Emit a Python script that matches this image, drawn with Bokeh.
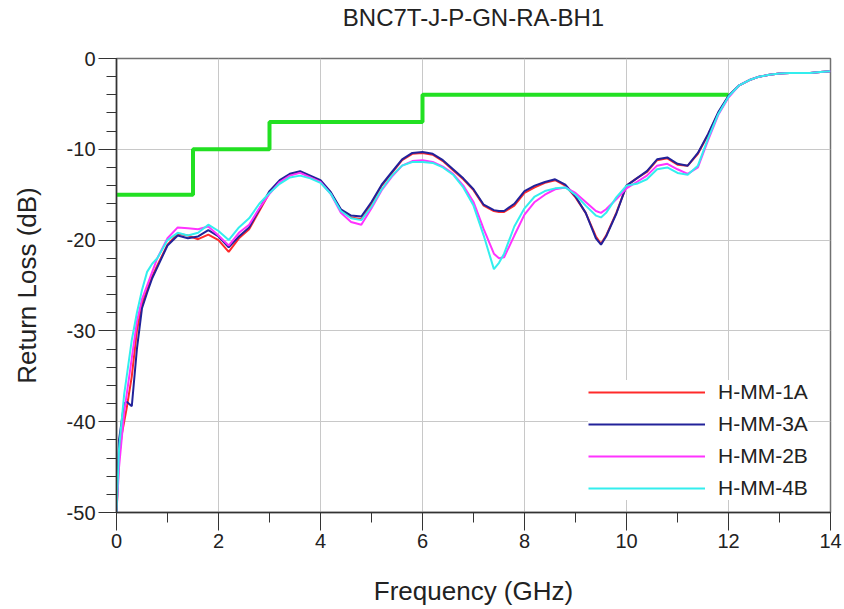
from bokeh.plotting import figure
from bokeh.models import Range1d, SingleIntervalTicker, Legend, LegendItem, PrintfTickFormatter
from bokeh.embed import file_html
from bokeh.resources import INLINE

freq = [0.0, 0.05, 0.1, 0.15, 0.2, 0.3, 0.4, 0.5, 0.6, 0.7, 0.8, 1.0, 1.2, 1.4, 1.6, 1.8,
        2.0, 2.2, 2.4, 2.6, 2.8, 3.0, 3.2, 3.4, 3.6, 3.8, 4.0, 4.2, 4.4, 4.6, 4.8,
        5.0, 5.2, 5.4, 5.6, 5.8, 6.0, 6.2, 6.4, 6.6, 6.8, 7.0, 7.2, 7.4, 7.5, 7.6, 7.8,
        8.0, 8.2, 8.4, 8.6, 8.8, 9.0, 9.2, 9.4, 9.5, 9.6, 9.8, 10.0, 10.2, 10.4, 10.6,
        10.8, 11.0, 11.2, 11.4, 11.6, 11.8, 12.0, 12.2, 12.4, 12.6, 12.8, 13.0, 13.2,
        13.4, 13.6, 13.8, 14.0]

hmm_1a = [-50.0, -44.0, -41.5, -40.0, -38.5, -35.0, -30.0, -27.0, -25.5, -24.0, -22.8, -20.5, -19.3, -19.5, -19.9, -19.4,
          -20.0, -21.3, -19.8, -18.8, -16.8, -14.8, -13.5, -12.8, -12.5, -13.0, -13.5, -14.8, -16.7, -17.5, -17.7,
          -16.0, -14.0, -12.6, -11.2, -10.5, -10.4, -10.6, -11.3, -12.3, -13.3, -14.5, -16.2, -16.8, -16.9, -16.9, -16.2,
          -14.8, -14.2, -13.7, -13.4, -14.0, -15.3, -17.0, -19.6, -20.4, -19.5, -17.0, -14.0, -13.2, -12.5, -11.2,
          -11.0, -11.7, -11.8, -10.5, -8.4, -6.0, -4.2, -3.0, -2.4, -2.0, -1.8, -1.65, -1.6,
          -1.6, -1.6, -1.5, -1.4]

hmm_3a = [-50.0, -42.0, -40.0, -38.0, -37.8, -38.3, -32.0, -27.5, -25.8, -24.2, -23.0, -20.6, -19.5, -19.8, -19.6, -18.9,
          -19.6, -20.8, -19.6, -18.6, -16.6, -14.6, -13.4, -12.7, -12.4, -12.9, -13.4, -14.7, -16.6, -17.3, -17.4,
          -15.8, -13.9, -12.5, -11.1, -10.4, -10.3, -10.5, -11.2, -12.2, -13.2, -14.4, -16.1, -16.7, -16.8, -16.8, -16.0,
          -14.6, -14.0, -13.6, -13.3, -13.9, -15.2, -17.0, -19.8, -20.5, -19.6, -17.1, -14.0, -13.2, -12.4, -11.1,
          -10.9, -11.6, -11.8, -10.4, -8.3, -5.9, -4.1, -3.0, -2.4, -2.0, -1.8, -1.65, -1.6,
          -1.6, -1.6, -1.5, -1.4]

hmm_2b = [-50.0, -45.0, -42.0, -39.0, -37.0, -33.0, -29.0, -26.5, -25.0, -23.5, -22.0, -19.8, -18.6, -18.7, -18.8, -18.5,
          -19.5, -20.6, -19.2, -18.3, -16.5, -14.9, -13.6, -12.9, -12.6, -13.1, -13.6, -14.9, -17.0, -18.0, -18.3,
          -16.5, -14.5, -13.0, -11.8, -11.3, -11.2, -11.4, -11.9, -12.7, -14.0, -15.8, -18.8, -21.5, -22.0, -21.9, -19.5,
          -17.2, -15.8, -15.0, -14.4, -14.2, -14.8, -15.8, -16.8, -17.0, -16.6, -15.5, -14.3, -13.6, -12.9, -11.8,
          -11.6, -12.2, -12.7, -12.0, -9.0, -6.2, -4.3, -3.0, -2.4, -2.0, -1.8, -1.65, -1.6,
          -1.6, -1.6, -1.5, -1.4]

hmm_4b = [-50.0, -43.0, -40.0, -37.0, -35.0, -31.0, -28.0, -25.5, -23.5, -22.6, -22.0, -20.0, -19.2, -19.5, -19.2, -18.3,
          -19.0, -20.0, -18.6, -17.6, -16.0, -14.8, -13.8, -13.1, -12.9, -13.2, -13.7, -14.9, -16.8, -17.6, -17.8,
          -16.3, -14.4, -12.9, -11.8, -11.4, -11.4, -11.5, -12.0, -12.8, -14.2, -16.2, -19.5, -23.2, -22.5, -21.5, -18.5,
          -16.5, -15.2, -14.6, -14.3, -14.2, -15.0, -16.2, -17.3, -17.5, -17.0, -15.3, -14.0, -13.8, -13.3, -12.2,
          -12.0, -12.6, -12.8, -11.8, -8.8, -6.1, -4.2, -3.0, -2.4, -2.0, -1.8, -1.65, -1.6,
          -1.6, -1.6, -1.5, -1.4]

limit_freq = [0.0, 1.5, 1.5, 3.0, 3.0, 6.0, 6.0, 12.0]
limit_db = [-15.0, -15.0, -10.0, -10.0, -7.0, -7.0, -4.0, -4.0]

series_names = ["H-MM-1A", "H-MM-3A", "H-MM-2B", "H-MM-4B"]
series_values = [hmm_1a, hmm_3a, hmm_2b, hmm_4b]
series_colors = ["#ff2a2a", "#22229a", "#ff33ff", "#33eeee"]
title_text = "BNC7T-J-P-GN-RA-BH1"

FONT = "Liberation Sans"

# trailing empty line lifts the title to the top of the border, as in the original
p = figure(width=844, height=609, output_backend="svg", toolbar_location=None,
           x_range=Range1d(0, 14), y_range=Range1d(-50, 0), title=title_text + "\n ")
p.min_border_left = 116
p.min_border_right = 14
p.min_border_top = 58
p.min_border_bottom = 97
p.background_fill_color = "white"
p.border_fill_color = "white"
p.outline_line_color = "#707070"
p.outline_line_width = 1.5

p.title.align = "center"
p.title.text_font = FONT
p.title.text_font_size = "24px"
p.title.text_font_style = "normal"
p.title.text_color = "#222222"
p.title.text_line_height = 1.0
p.title.standoff = 1

p.xaxis.ticker = SingleIntervalTicker(interval=2, num_minor_ticks=2)
p.yaxis.ticker = SingleIntervalTicker(interval=10, num_minor_ticks=5)
p.xaxis.formatter = PrintfTickFormatter(format="%d")
p.yaxis.formatter = PrintfTickFormatter(format="%d")
for ax in (p.xaxis, p.yaxis):
    ax.axis_line_color = "#333333"
    ax.axis_line_width = 1.5
    ax.major_tick_line_color = "#333333"
    ax.minor_tick_line_color = "#333333"
    ax.major_tick_in = 0
    ax.major_tick_out = 18
    ax.minor_tick_in = 0
    ax.minor_tick_out = 10
    ax.major_label_standoff = 3
    ax.major_label_text_font = FONT
    ax.major_label_text_font_size = "20px"
    ax.major_label_text_color = "#222222"
    ax.axis_label_text_font = FONT
    ax.axis_label_text_font_size = "26px"
    ax.axis_label_text_font_style = "normal"
    ax.axis_label_text_color = "#222222"
p.xaxis.axis_label = "Frequency (GHz)"
p.yaxis.axis_label = "Return Loss (dB)"
p.xaxis.axis_label_standoff = 25
p.yaxis.axis_label_standoff = 22

p.xgrid.grid_line_color = "#c8c8c8"
p.ygrid.grid_line_color = "#c8c8c8"

p.line(limit_freq, limit_db, color="#22e022", line_width=4)

renderers = []
for name, vals, col in zip(series_names, series_values, series_colors):
    r = p.line(freq, vals, color=col, line_width=2)
    renderers.append((name, r))

legend = Legend(items=[LegendItem(label=n, renderers=[r]) for n, r in renderers],
                location=(472, 12), glyph_width=117, glyph_height=20, label_standoff=13,
                spacing=8, padding=6, border_line_color=None,
                background_fill_color="white", background_fill_alpha=1.0,
                label_text_font=FONT, label_text_font_size="21px", label_text_color="#222222")
p.add_layout(legend)

open("out.html", "w").write(file_html(p, INLINE))
